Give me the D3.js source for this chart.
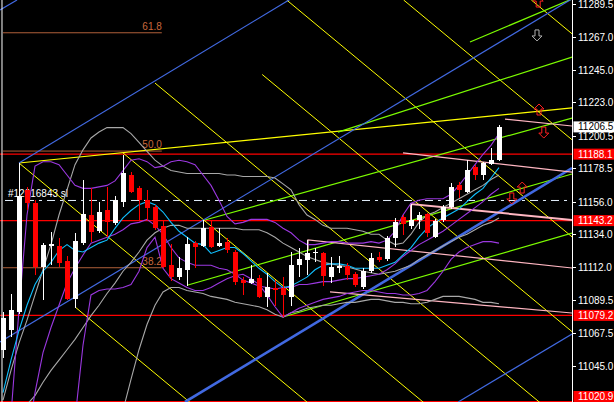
<!DOCTYPE html>
<html><head><meta charset="utf-8">
<script src="https://cdn.jsdelivr.net/npm/d3@7"></script>
<style>html,body{margin:0;padding:0;background:#000;overflow:hidden}</style>
</head><body>
<svg id="c" width="614" height="402"></svg>
<script>
// ---------- DATA ----------
const opens  = [11055.8,11069.3,11081.5,11163.9,11155.1,11111.9,11126.1,11126.1,11115.9,11090.3,11128.1,11147.0,11136.2,11150.4,11141.6,11155.8,11174.0,11165.2,11157.1,11152.4,11139.6,11113.2,11105.1,11109.8,11128.1,11126.1,11138.9,11126.1,11128.8,11122.0,11103.1,11101.1,11104.4,11091.6,11097.7,11097.7,11091.6,11113.2,11116.6,11121.7,11121.3,11105.1,11111.2,11112.5,11107.1,11098.4,11109.2,11118.6,11117.3,11131.5,11145.6,11139.6,11143.6,11147.7,11132.1,11143.6,11152.4,11167.3,11162.5,11179.4,11174.0,11181.4,11184.1];
const highs  = [11081.5,11093.6,11182.1,11165.9,11157.1,11128.1,11135.5,11131.5,11119.3,11134.8,11170.6,11165.2,11155.8,11165.9,11159.8,11187.5,11176.0,11166.6,11163.9,11153.7,11143.6,11127.4,11118.6,11132.1,11129.4,11143.6,11143.6,11138.2,11131.5,11123.3,11105.1,11113.2,11106.5,11107.8,11103.1,11105.1,11122.0,11124.7,11130.1,11124.7,11122.0,11118.6,11119.3,11114.6,11108.5,11111.2,11121.3,11122.0,11132.8,11145.0,11147.0,11154.4,11149.0,11148.3,11144.3,11153.7,11168.6,11169.3,11184.1,11180.8,11182.8,11192.2,11207.8];
const lows   = [11050.4,11064.6,11080.1,11150.4,11106.5,11089.6,11113.2,11111.9,11089.6,11084.2,11126.7,11128.8,11134.8,11132.1,11140.2,11152.4,11161.8,11143.6,11143.6,11136.9,11111.2,11102.4,11103.1,11099.0,11111.2,11125.4,11124.7,11125.4,11121.3,11099.7,11093.0,11100.4,11090.9,11084.9,11085.5,11078.1,11085.5,11105.1,11106.5,11115.2,11099.0,11101.1,11107.8,11103.1,11098.4,11097.0,11107.8,11115.2,11115.9,11125.4,11133.5,11137.5,11137.5,11132.1,11131.5,11142.3,11151.0,11158.5,11161.8,11170.6,11170.6,11180.8,11183.5];
const closes = [11077.4,11082.8,11159.8,11155.1,11111.9,11126.7,11127.4,11114.6,11090.3,11129.4,11147.7,11135.5,11149.0,11142.3,11157.1,11175.4,11162.5,11157.1,11151.7,11138.2,11111.9,11105.1,11111.2,11127.4,11125.4,11138.2,11125.4,11128.1,11123.3,11101.7,11101.1,11103.8,11091.6,11098.4,11096.3,11093.0,11113.2,11117.3,11121.3,11122.0,11105.8,11111.9,11112.5,11106.5,11099.7,11109.2,11117.9,11116.6,11131.5,11142.3,11140.9,11143.6,11147.0,11134.8,11142.9,11152.4,11165.9,11163.9,11177.4,11174.0,11182.1,11184.1,11206.5];

// indicator curves
const maCyan = [11027,11049,11069,11086,11100,11109,11115,11123,11127,11123,11122,11125,11128,11130,11138,11145,11150,11154,11156,11154,11149,11142,11136,11132,11128,11127,11121,11123,11125,11125,11121,11116,11111,11107,11102,11098,11099,11102,11105,11110,11113,11114,11114,11113,11111,11111,11111,11111,11113,11115,11120,11125,11132,11138,11142,11145,11148,11151,11156,11161,11165,11172,11179];
const purpleUpper = [10941,11012,11083,11147,11180,11183,11183,11181,11174,11167,11165,11165,11166,11167,11170,11177,11184,11185,11183,11179,11180,11183,11184,11183,11181,11174,11167,11157,11146,11141,11142,11144,11144,11144,11142,11138,11135,11130,11127,11127,11128,11129,11129,11128,11128,11128,11129,11128,11130,11136,11147,11155,11157,11158,11158,11158,11161,11167,11174,11181,11188,11194,11202];
const purpleLower = [10887,10941,10968,10995,11027,11054,11071,11086,11101,11111,11120,11128,11130,11132,11134,11137,11141,11142,11144,11140,11134,11125,11118,11115,11113,11113,11113,11111,11110,11107,11103,11101,11099,11098,11097,11098,11098,11100,11100,11101,11102,11102,11103,11104,11104,11105,11106,11107,11110,11114,11119,11123,11127,11130,11133,11136,11140,11144,11148,11152,11156,11161,11165];
const purpleSlow = [null,null,null,null,null,null,null,null,null,11009,11059,11093,11096,11097,11097,11098,11100,11109,11125,11132,11111,11104,11101,11098,11096,11096,11098,11101,11104,11106,11107,11104,11100,11093,11085,11078,11081,11084,11086,11088,11090,11091,11092,11094,11095,11096,11096,11095,11094,11094,11093,11093,11094,11096,11102,11109,11117,11122,11125,11127,11129,11129,11128];
const grayUpper = [11022,11042,11060.5,11076,11093,11110,11127,11147,11164,11181,11191,11199,11203,11206,11206,11206,11202,11196,11190,11184,11180,11177,11176,11175,11175,11175,11175,11175,11174,11174,11173,11173,11173,11173,11172,11168,11164,11154,11147,11144,11140,11138,11138,11138,11137,11136,11134,11134,11130,11127,11128,11134,11142,11147,11149,11152,11155,11158,11161,11164,11167,11171,11174];
const grayMid = [10982,10995,11009,11019,11025,11034,11042,11049,11056,11063,11071,11079,11086,11094,11101,11109,11115,11122,11130,11135,11138,11140,11140,11138,11138,11138,11138,11138,11138,11138,11137,11137,11137,11135,11132,11128,11125,11122,11119,11117,11115,11114,11113,11112,11110.5,11109,11108,11107,11108,11109,11111,11113,11117,11120,11123,11126,11129,11132,11134,11137,11140,11142,11145];
const grayLower = [null,null,null,null,null,null,null,null,null,null,null,null,null,null,null,11015,11036,11056,11073,11086,11095,11098,11098,11096,11095,11094,11092,11091,11090,11088,11087,11086,11085,11083,11080,11078,11081,11082,11084,11085,11086,11086,11087,11088,11088,11089,11090,11090,11089,11088,11088,11087,11087,11088,11090,11092,11092,11092,11091,11090,11088,11088,11087];

// chart objects: [bar, price] points
const yellowStarts = [[2,11182.1],[15,11188.9],[9,11084.9],[19,11236.1],[32.4,11241.9],[35.46,11292.2],[50.08,11292.2],[66.04,11292.2]];
const yellowSlope = -4.485; // price per bar shared by the parallel set
const yellowRise = [[2,11182.1],[71.125,11219.3]];
const greenLines = [
  [[35,11078.1],[71.125,11134.8]],
  [[23.125,11099.7],[71.125,11174.7]],
  [[25.25,11143.6],[71.125,11212.5]],
  [[41.875,11203.0],[71.125,11253.7]],
  [[58.375,11263.8],[71.125,11292.9]]
];
const blueLines = [
  [[2,11182.1],[37,11296.3]],
  [[-0.375,11061.2],[71.125,11293.0]],
  [[56.9,11020.7],[71.125,11066.6]],
  [[-0.375,11285.4],[1.75,11292.2]]
];
const blueThick = [[22.75,11020.7],[71.125,11178.7]];
const pinkLines = [
  [[62.75,11211.8],[71.125,11207.1]],
  [[50,11188.9],[71.125,11176.0]],
  [[38.125,11123.3],[38.125,11130.1],[71.125,11111.2]],
  [[40.875,11095.0],[71.125,11080.8]]
];
const pinkThick = [[51,11140.2],[51,11154.4],[71.125,11143.6]];
const fibLabels = ["61.8","50.0","38.2"];
const fibPrices = [11270.4,11190.5,11111.7];
const fibBars = [0,19.85];
const redLevels = [11188.1,11143.2,11079.2,11020.9];
const slPrice = 11156.8, slLabel = "#12016843 sl";
const lastPrice = 11206.5;
const tickValues = [11289.5,11267.0,11245.0,11223.0,11200.5,11178.5,11156.0,11134.0,11112.0,11089.5,11067.5,11045.0];
const tickLabels = ["11289.5","11267.0","11245.0","11223.0","11200.5","11178.5","11156.0","11134.0","11112.0","11089.5","11067.5","11045.0"];
const arrowsUp = [[66.9,11290.8,"#ff2020"],[67,11217.9,"#ff2020"],[64.9,11165.2,"#ff2020"]];
const arrowsDown = [[66.75,11268.6,"#b0b0b0"],[67.6,11203.0,"#ff2020"],[63.6,11158.5,"#ff2020"]];
const separatorBar = -0.125;

// ---------- DRAW ----------
const W = 614, H = 402, AX = 572;
const x = d3.scaleLinear().domain([0, 62]).range([3, 499]);
const y = d3.scaleLinear().domain([11045, 11289.5]).range([366, 4]);
const svg = d3.select("#c");
svg.append("rect").attr("width", W).attr("height", H).attr("fill", "#000");
svg.append("defs").append("clipPath").attr("id", "plot")
  .append("rect").attr("x", 0).attr("y", 0).attr("width", AX).attr("height", H);
const g = svg.append("g").attr("clip-path", "url(#plot)");
const line = d3.line().x(d => x(d[0])).y(d => y(d[1]));

function seg(pts, color, w) {
  g.append("path").attr("d", line(pts)).attr("fill", "none")
    .attr("stroke", color).attr("stroke-width", w || 1);
}

// fib levels
fibPrices.forEach((p, k) => {
  g.append("line").attr("x1", x(fibBars[0])).attr("x2", x(fibBars[1]))
    .attr("y1", y(p) + 0.5).attr("y2", y(p) + 0.5).attr("stroke", "#b0603a");
  g.append("text").attr("x", x(fibBars[1])).attr("y", y(p) - 2.5)
    .attr("text-anchor", "end").attr("fill", "#c8683c")
    .attr("font-family", "Liberation Sans, Arial, sans-serif").attr("font-size", 10)
    .text(fibLabels[k]);
});

// red levels
redLevels.forEach(p => {
  g.append("line").attr("x1", 0).attr("x2", AX).attr("y1", y(p)).attr("y2", y(p))
    .attr("stroke", "#ff0000").attr("stroke-width", 1.3);
});

// stop-loss dashed line + label
g.append("line").attr("x1", 5).attr("x2", AX).attr("y1", y(slPrice)).attr("y2", y(slPrice))
  .attr("stroke", "#e6f2ff").attr("stroke-dasharray", "8,5,3,5");
g.append("text").attr("x", 8).attr("y", y(slPrice) - 3).attr("fill", "#fff")
  .attr("font-family", "Liberation Sans, Arial, sans-serif").attr("font-size", 10).text(slLabel);

// trend lines
yellowStarts.forEach(s => {
  const endBar = 80;
  seg([s, [endBar, s[1] + yellowSlope * (endBar - s[0])]], "#ffff00", 1);
});
seg(yellowRise, "#ffff00", 1.2);
greenLines.forEach(l => seg(l, "#7cfc00", 1.2));
blueLines.forEach(l => seg(l, "#4169e1", 1.2));
seg(blueThick, "#4169e1", 2.6);
pinkLines.forEach(l => seg(l, "#ffb6c1", 1.2));
seg(pinkThick, "#ffb6c1", 2);

// indicators
function curve(vals, color, w) {
  const pts = vals.map((v, i) => [i, v]);
  g.append("path").attr("d", d3.line().defined(d => d[1] !== null)
      .x(d => x(d[0])).y(d => y(d[1]))(pts))
    .attr("fill", "none").attr("stroke", color).attr("stroke-width", w || 1.1);
}
curve(grayUpper, "#a8a8a8");
curve(grayMid, "#a8a8a8");
curve(grayLower, "#a8a8a8");
curve(purpleUpper, "#9b38e0");
curve(purpleLower, "#9b38e0");
curve(purpleSlow, "#9b38e0");
curve(maCyan, "#10c0ff");

// arrows
function arrow(cx, cy, up, color) {
  const s = up ? 1 : -1;
  const pts = [[0,-6],[5,-1],[2,-1],[2,5],[-2,5],[-2,-1],[-5,-1]]
    .map(p => [cx + p[0], cy + s * p[1]]);
  g.append("path").attr("d", "M" + pts.map(p => p.join(",")).join("L") + "Z")
    .attr("fill", "none").attr("stroke", color).attr("stroke-width", 1);
}
arrowsUp.forEach(a => arrow(x(a[0]), y(a[1]), true, a[2]));
arrowsDown.forEach(a => arrow(x(a[0]), y(a[1]), false, a[2]));

// candles
const cg = g.append("g").attr("shape-rendering", "crispEdges");
opens.forEach((o, i) => {
  const c = closes[i], bull = c >= o;
  const col = bull ? "#ffffff" : "#ff0000";
  const cx = Math.round(x(i));
  cg.append("line").attr("x1", cx + 0.5).attr("x2", cx + 0.5)
    .attr("y1", y(highs[i])).attr("y2", y(lows[i])).attr("stroke", col);
  const top = y(Math.max(o, c)), bot = y(Math.min(o, c));
  cg.append("rect").attr("x", cx - 2).attr("width", 5)
    .attr("y", top).attr("height", Math.max(1, bot - top)).attr("fill", col);
});

// left separator
svg.append("line").attr("x1", x(separatorBar)).attr("x2", x(separatorBar))
  .attr("y1", 0).attr("y2", H).attr("stroke", "#fff");

// right price axis
svg.append("line").attr("x1", AX + 0.5).attr("x2", AX + 0.5).attr("y1", 0).attr("y2", H)
  .attr("stroke", "#fff");
const ax = svg.append("g").attr("font-family", "Liberation Sans, Arial, sans-serif").attr("font-size", 10);
tickValues.forEach((v, k) => {
  const yy = Math.round(y(v)) + 0.5;
  ax.append("line").attr("x1", AX).attr("x2", AX + 4).attr("y1", yy).attr("y2", yy).attr("stroke", "#fff");
  ax.append("text").attr("x", 578).attr("y", yy + 3.5).attr("fill", "#fff").text(tickLabels[k]);
});
function priceBox(p, bg, fg) {
  const top = Math.min(y(p) - 5.5, H - 11);
  ax.append("rect").attr("x", AX + 1.5).attr("y", top).attr("width", W - AX).attr("height", 11).attr("fill", bg);
  ax.append("text").attr("x", 578).attr("y", top + 9).attr("fill", fg).text(p.toFixed(1));
}
redLevels.forEach(p => priceBox(p, "#ff0000", "#fff"));
priceBox(lastPrice, "#ffffff", "#000");
</script>
</body></html>
